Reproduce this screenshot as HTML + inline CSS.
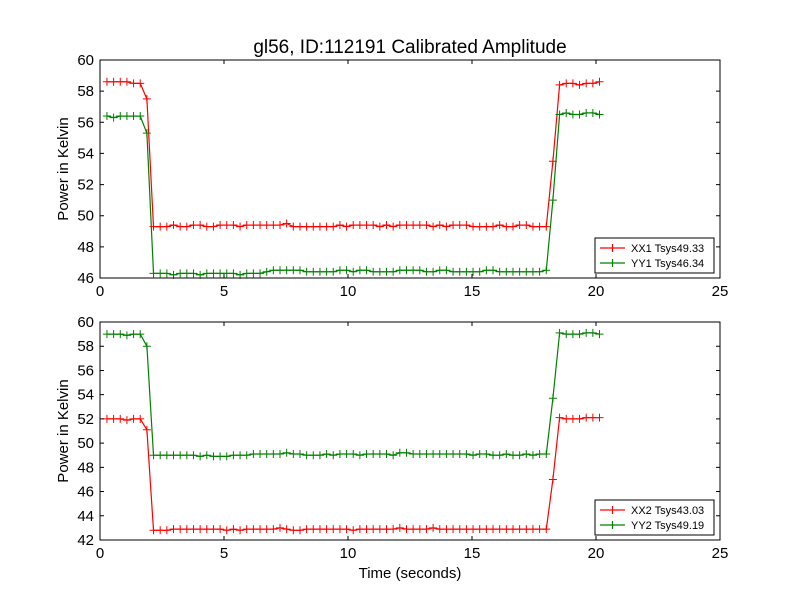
<!DOCTYPE html>
<html><head><meta charset="utf-8"><style>
html,body{margin:0;padding:0;background:#fff;}
svg text{font-family:"Liberation Sans","DejaVu Sans",sans-serif;}
</style></head><body>
<svg id="chart" width="800" height="600" viewBox="0 0 800 600" xmlns="http://www.w3.org/2000/svg">
<rect width="800" height="600" fill="#fff"/>
<text x="410" y="53" font-size="19" text-anchor="middle">gl56, ID:112191 Calibrated Amplitude</text>
<g id="p1"></g>
<g id="p2"></g>
<text x="410" y="578" font-size="15" text-anchor="middle">Time (seconds)</text>
</svg>
<script>
const xTicks=[0,5,10,15,20,25];
const yTicks1=[46,48,50,52,54,56,58,60];
const yTicks2=[42,44,46,48,50,52,54,56,58,60];
const t0=0.28, dt=0.2684;
const xx1=[58.6,58.6,58.6,58.6,58.5,58.5,57.5,
49.3,49.3,49.3,49.4,49.3,49.3,49.4,49.4,49.3,49.3,49.4,49.4,49.4,49.3,49.4,49.4,49.4,49.4,49.4,49.4,49.5,49.3,49.3,49.3,49.3,49.3,49.3,49.3,49.4,49.3,49.4,49.4,49.4,49.4,49.3,49.4,49.3,49.4,49.4,49.4,49.4,49.4,49.3,49.4,49.3,49.4,49.4,49.4,49.3,49.3,49.3,49.3,49.4,49.3,49.3,49.4,49.4,49.3,49.3,49.3,
53.5,58.4,58.5,58.5,58.4,58.5,58.5,58.6];
const yy1=[56.4,56.3,56.4,56.4,56.4,56.4,55.3,
46.3,46.3,46.3,46.2,46.3,46.3,46.3,46.2,46.3,46.3,46.3,46.3,46.3,46.2,46.3,46.3,46.3,46.4,46.5,46.5,46.5,46.5,46.5,46.4,46.4,46.4,46.4,46.4,46.5,46.5,46.4,46.5,46.5,46.4,46.4,46.4,46.4,46.5,46.5,46.5,46.5,46.4,46.4,46.5,46.5,46.4,46.4,46.4,46.4,46.4,46.5,46.5,46.4,46.4,46.4,46.4,46.4,46.4,46.4,46.5,
51.0,56.5,56.6,56.5,56.5,56.6,56.6,56.5];
const xx2=[52.0,52.0,52.0,51.9,52.0,52.0,51.1,
42.8,42.8,42.8,42.9,42.9,42.9,42.9,42.9,42.9,42.9,42.9,42.8,42.9,42.8,42.9,42.9,42.9,42.9,42.9,43.0,42.9,42.8,42.8,42.9,42.9,42.9,42.9,42.9,42.9,42.9,42.8,42.9,42.9,42.9,42.9,42.9,42.9,43.0,42.9,42.9,42.9,42.9,43.0,42.9,42.9,42.9,42.9,42.9,42.9,42.9,42.9,42.9,42.9,42.9,42.9,42.9,42.9,42.9,42.9,42.9,
47.0,52.1,52.0,52.0,52.0,52.1,52.1,52.1];
const yy2=[59.0,59.0,59.0,58.9,59.0,59.0,58.0,
49.0,49.0,49.0,49.0,49.0,49.0,49.0,48.9,49.0,48.9,48.9,48.9,49.0,49.0,49.0,49.1,49.1,49.1,49.1,49.1,49.2,49.1,49.1,49.0,49.0,49.0,49.1,49.0,49.1,49.1,49.1,49.0,49.1,49.1,49.1,49.1,49.0,49.2,49.2,49.1,49.1,49.1,49.1,49.1,49.1,49.1,49.1,49.1,49.0,49.1,49.1,49.0,49.0,49.1,49.0,49.0,49.1,49.0,49.1,49.1,
53.7,59.1,59.0,59.0,59.0,59.1,59.1,59.0];
const NS="http://www.w3.org/2000/svg";
const X0=100,X1=720;
function xs(v){return X0+(v-0)/(25-0)*(X1-X0);}
function mk(tag,attrs,parent){const e=document.createElementNS(NS,tag);for(const k in attrs)e.setAttribute(k,attrs[k]);parent.appendChild(e);return e;}
function panel(g,top,bot,ymin,ymax,yTicks,series,legTop){
  const ys=v=>bot-(v-ymin)/(ymax-ymin)*(bot-top);
  series.forEach(s=>{
    const pts=s.data.map((v,i)=>xs(t0+dt*i).toFixed(1)+","+ys(v).toFixed(1)).join(" ");
    const pl=mk("polyline",{points:pts,fill:"none",stroke:s.color,"stroke-width":1.2},g);
    
    
    s.data.forEach((v,i)=>{
      const cx=xs(t0+dt*i),cy=ys(v);
      const m=mk("path",{d:`M${cx-4},${cy}H${cx+4}M${cx},${cy-4}V${cy+4}`,stroke:s.color,"stroke-width":1},g);
      
      
    });
  });
  const fr=mk("rect",{x:X0,y:top,width:X1-X0,height:bot-top,fill:"none",stroke:"#000","stroke-width":1},g);
  
  
  xTicks.forEach(t=>{
    const x=xs(t);
    mk("path",{d:`M${x},${bot}v-4M${x},${top}v4`,stroke:"#000"},g);
    const tx=mk("text",{x:x,y:bot+18,"font-size":15,"text-anchor":"middle"},g);
    tx.textContent=t;
    
    
  });
  yTicks.forEach(t=>{
    const y=ys(t);
    mk("path",{d:`M${X0},${y}h4M${X1},${y}h-4`,stroke:"#000"},g);
    const tx=mk("text",{x:X0-6,y:y+5,"font-size":15,"text-anchor":"end"},g);
    tx.textContent=t;
    
    
  });
  const yl=mk("text",{x:0,y:0,"font-size":15,"text-anchor":"middle",transform:`translate(68,${(top+bot)/2}) rotate(-90)`},g);
  yl.textContent="Power in Kelvin";
  
  
  const lg=mk("g",{},g);
  
  
  mk("rect",{x:595,y:legTop,width:119,height:35,fill:"#fff",stroke:"#000"},lg);
  series.forEach((s,k)=>{
    const y=legTop+10+k*15;
    mk("path",{d:`M600,${y}h25M612.5,${y-4}v8`,stroke:s.color,"stroke-width":1.2},lg);
    const tx=mk("text",{x:631,y:y+4,"font-size":11},lg);
    tx.textContent=s.label;
    
    
  });
}
panel(document.getElementById("p1"),60,278,46,60,yTicks1,[
 {data:xx1,color:"#ff0000",name:"xx1",label:"XX1 Tsys49.33"},
 {data:yy1,color:"#008000",name:"yy1",label:"YY1 Tsys46.34"}],238);
panel(document.getElementById("p2"),322,540,42,60,yTicks2,[
 {data:xx2,color:"#ff0000",name:"xx2",label:"XX2 Tsys43.03"},
 {data:yy2,color:"#008000",name:"yy2",label:"YY2 Tsys49.19"}],500);
</script>
</body></html>
